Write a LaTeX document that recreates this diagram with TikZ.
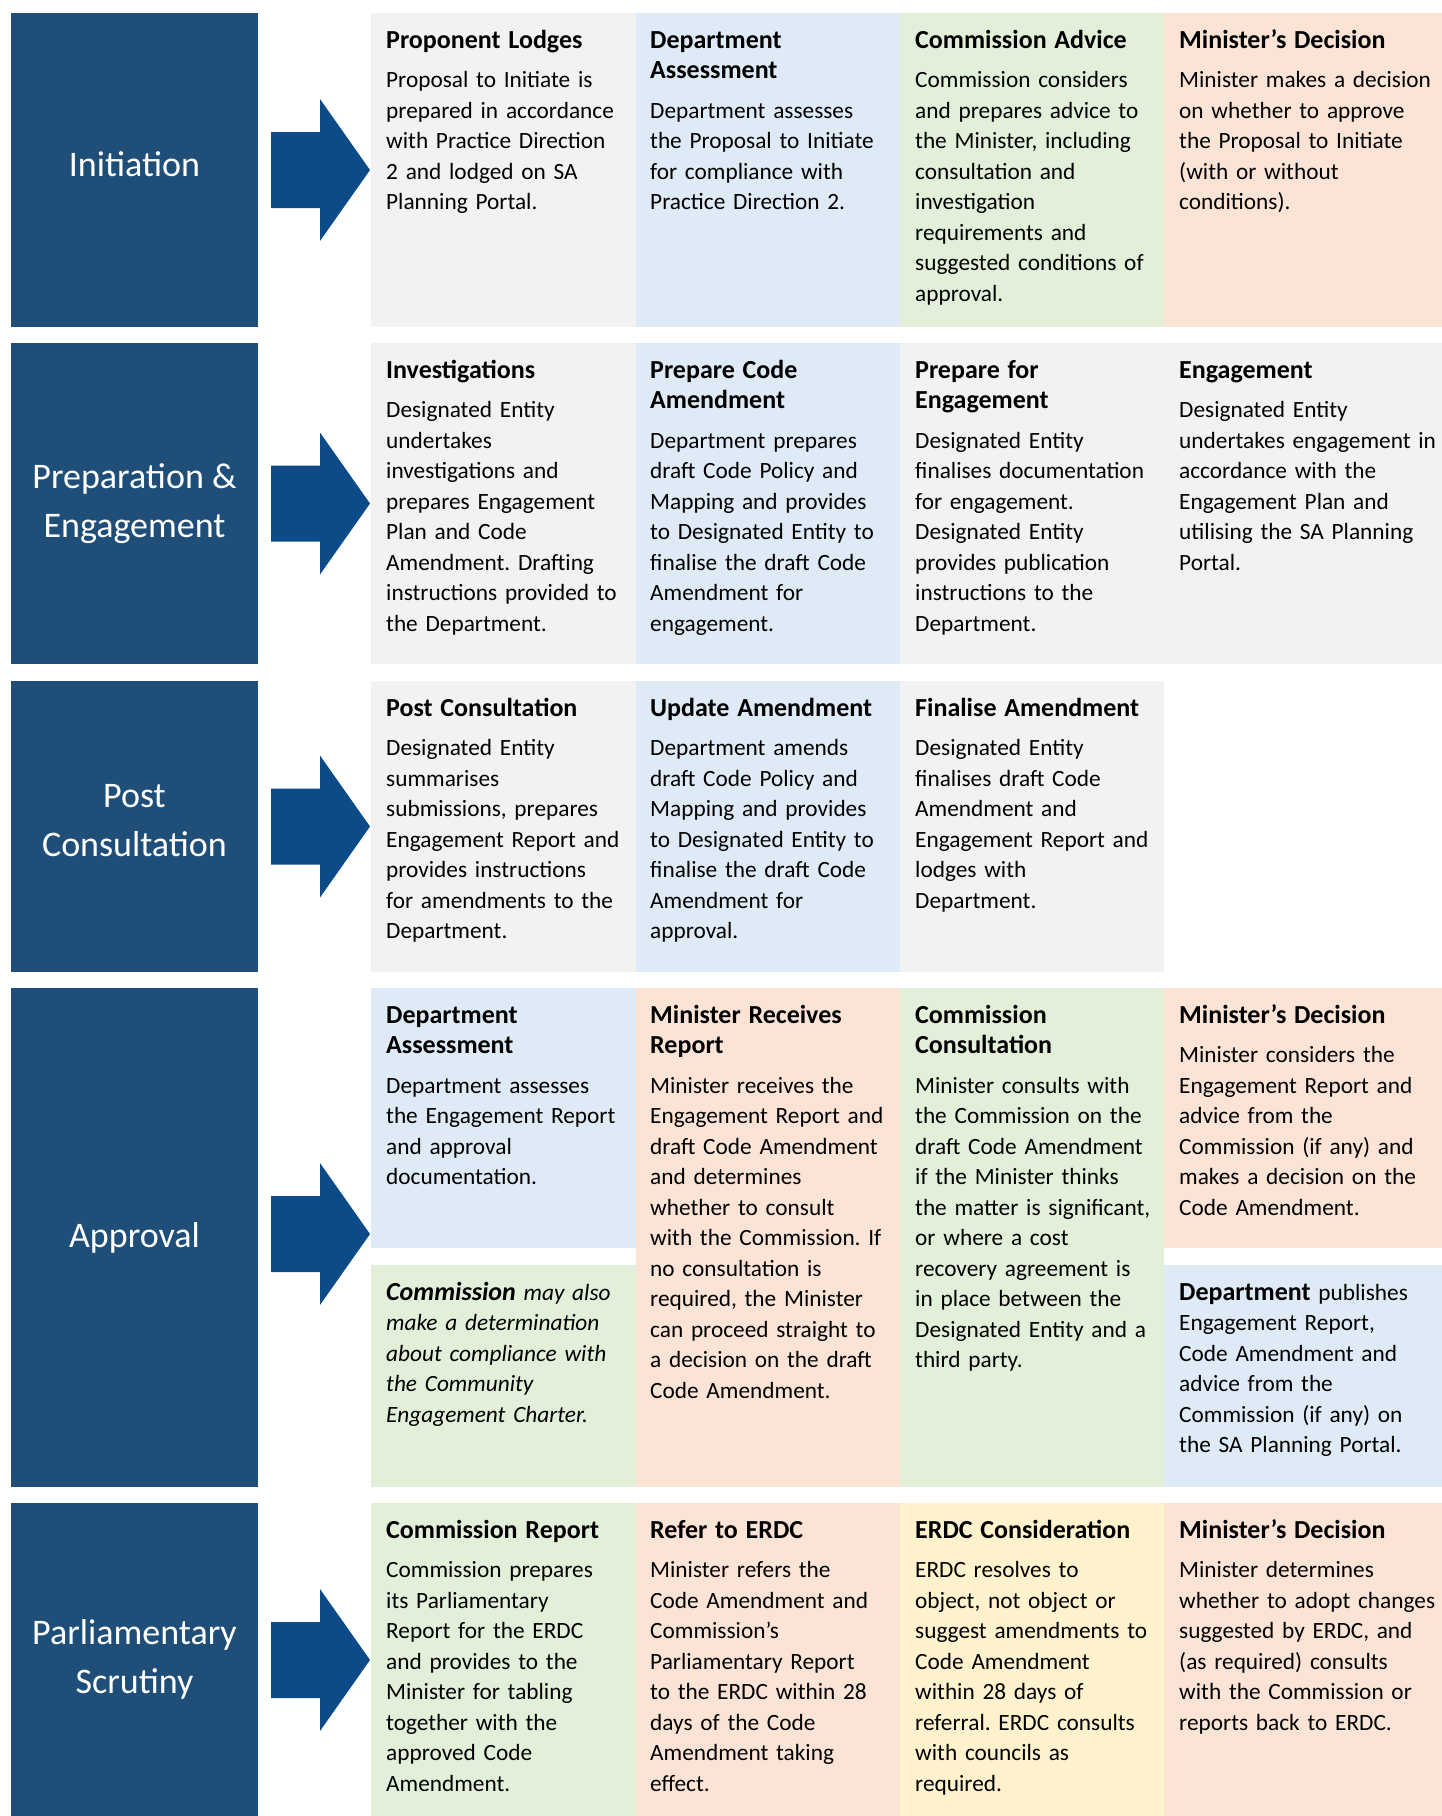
\documentclass[tikz,border=0pt]{standalone}
\usepackage{fontspec}
\setmainfont{Carlito}
\usepackage{tikz}
\definecolor{phase_blue}{RGB}{31, 78, 121}
\definecolor{arrow_blue}{RGB}{12, 75, 135}
\definecolor{cell_grey}{RGB}{242, 242, 242}
\definecolor{cell_blue}{RGB}{222, 234, 246}
\definecolor{cell_green}{RGB}{226, 239, 217}
\definecolor{cell_salmon}{RGB}{251, 228, 213}
\definecolor{cell_yellow}{RGB}{255, 242, 204}
\newcommand{\cellhead}[1]{{\fontsize{26}{30.5}\selectfont\bfseries #1}}
\newcommand{\lowdepth}{\rule[-12pt]{0pt}{0pt}}
\tikzstyle{ph}=[fill=phase_blue,text=white,inner sep=0pt,minimum width=247pt,
  align=center,font=\fontsize{36}{48.6}\selectfont]
\tikzstyle{tx}=[anchor=base west,inner sep=0pt,text width=270pt,align=left,
  font=\fontsize{23.3}{30.5}\selectfont\frenchspacing]
\tikzstyle{arw}=[fill=arrow_blue]

\begin{document}
\begin{tikzpicture}[x=1pt, y=-1pt]
		\useasboundingbox (0,0) rectangle (1442,1816);
		% phases
		\node [style=ph, minimum height=314pt] (init) at (134.5, 170) {Initiation\lowdepth};
		\node [style=ph, minimum height=321pt] (prep) at (134.5, 503.5) {Preparation \&\\Engagement};
		\node [style=ph, minimum height=291pt] (post) at (134.5, 826.5) {Post\\Consultation\lowdepth};
		\node [style=ph, minimum height=499pt] (appr) at (134.5, 1237.5) {Approval};
		\node [style=ph, minimum height=313pt] (parl) at (134.5, 1659.5) {Parliamentary\\Scrutiny};
		% arrows
		\fill [style=arw] (271,132) -- (320,132) -- (320,99) -- (370,170) -- (320,241) -- (320,208) -- (271,208) -- cycle;
		\fill [style=arw] (271,465.5) -- (320,465.5) -- (320,432.5) -- (370,503.5) -- (320,574.5) -- (320,541.5) -- (271,541.5) -- cycle;
		\fill [style=arw] (271,788.5) -- (320,788.5) -- (320,755.5) -- (370,826.5) -- (320,897.5) -- (320,864.5) -- (271,864.5) -- cycle;
		\fill [style=arw] (271,1196) -- (320,1196) -- (320,1163) -- (370,1234) -- (320,1305) -- (320,1272) -- (271,1272) -- cycle;
		\fill [style=arw] (271,1622) -- (320,1622) -- (320,1589) -- (370,1660) -- (320,1731) -- (320,1698) -- (271,1698) -- cycle;
		% cells
		\fill [cell_grey] (371,13) rectangle (636,327);
		\fill [cell_blue] (636,13) rectangle (900,327);
		\fill [cell_green] (900,13) rectangle (1164,327);
		\fill [cell_salmon] (1164,13) rectangle (1442,327);
		\fill [cell_grey] (371,343) rectangle (636,664);
		\fill [cell_blue] (636,343) rectangle (900,664);
		\fill [cell_grey] (900,343) rectangle (1164,664);
		\fill [cell_grey] (1164,343) rectangle (1442,664);
		\fill [cell_grey] (371,681) rectangle (636,972);
		\fill [cell_blue] (636,681) rectangle (900,972);
		\fill [cell_grey] (900,681) rectangle (1164,972);
		\fill [cell_blue] (371,988) rectangle (636,1248);
		\fill [cell_green] (371,1265) rectangle (636,1487);
		\fill [cell_salmon] (636,988) rectangle (900,1487);
		\fill [cell_green] (900,988) rectangle (1164,1487);
		\fill [cell_salmon] (1164,988) rectangle (1442,1248);
		\fill [cell_blue] (1164,1265) rectangle (1442,1487);
		\fill [cell_green] (371,1503) rectangle (636,1816);
		\fill [cell_salmon] (636,1503) rectangle (900,1816);
		\fill [cell_yellow] (900,1503) rectangle (1164,1816);
		\fill [cell_salmon] (1164,1503) rectangle (1442,1816);
		% initiation
		\node [style=tx] (lodge) at (386, 48) {\cellhead{Proponent Lodges}\\[9pt]Proposal to Initiate is\\prepared in accordance\\with Practice Direction\\2 and lodged on SA\\Planning Portal.};
		\node [style=tx] (assess1) at (650, 48) {\cellhead{Department}\\\cellhead{Assessment}\\[9pt]Department assesses\\the Proposal to Initiate\\for compliance with\\Practice Direction 2.};
		\node [style=tx] (advice) at (915, 48) {\cellhead{Commission Advice}\\[9pt]Commission considers\\and prepares advice to\\the Minister, including\\consultation and\\investigation\\requirements and\\suggested conditions of\\approval.};
		\node [style=tx] (decide1) at (1179, 48) {\cellhead{Minister’s Decision}\\[9pt]Minister makes a decision\\on whether to approve\\the Proposal to Initiate\\(with or without\\conditions).};
		% preparation & engagement
		\node [style=tx] (invest) at (386, 378) {\cellhead{Investigations}\\[9pt]Designated Entity\\undertakes\\investigations and\\prepares Engagement\\Plan and Code\\Amendment. Drafting\\instructions provided to\\the Department.};
		\node [style=tx] (prepcode) at (650, 378) {\cellhead{Prepare Code}\\\cellhead{Amendment}\\[9pt]Department prepares\\draft Code Policy and\\Mapping and provides\\to Designated Entity to\\finalise the draft Code\\Amendment for\\engagement.};
		\node [style=tx] (prepeng) at (915, 378) {\cellhead{Prepare for}\\\cellhead{Engagement}\\[9pt]Designated Entity\\finalises documentation\\for engagement.\\Designated Entity\\provides publication\\instructions to the\\Department.};
		\node [style=tx] (engage) at (1179, 378) {\cellhead{Engagement}\\[9pt]Designated Entity\\undertakes engagement in\\accordance with the\\Engagement Plan and\\utilising the SA Planning\\Portal.};
		% post consultation
		\node [style=tx] (postc) at (386, 716) {\cellhead{Post Consultation}\\[9pt]Designated Entity\\summarises\\submissions, prepares\\Engagement Report and\\provides instructions\\for amendments to the\\Department.};
		\node [style=tx] (update) at (650, 716) {\cellhead{Update Amendment}\\[9pt]Department amends\\draft Code Policy and\\Mapping and provides\\to Designated Entity to\\finalise the draft Code\\Amendment for\\approval.};
		\node [style=tx] (final) at (915, 716) {\cellhead{Finalise Amendment}\\[9pt]Designated Entity\\finalises draft Code\\Amendment and\\Engagement Report and\\lodges with\\Department.};
		% approval
		\node [style=tx] (assess2) at (386, 1023) {\cellhead{Department}\\\cellhead{Assessment}\\[9pt]Department assesses\\the Engagement Report\\and approval\\documentation.};
		\node [style=tx] (charter) at (386, 1300) {\itshape\cellhead{Commission} may also\\make a determination\\about compliance with\\the Community\\Engagement Charter.};
		\node [style=tx] (receive) at (650, 1023) {\cellhead{Minister Receives}\\\cellhead{Report}\\[9pt]Minister receives the\\Engagement Report and\\draft Code Amendment\\and determines\\whether to consult\\with the Commission. If\\no consultation is\\required, the Minister\\can proceed straight to\\a decision on the draft\\Code Amendment.};
		\node [style=tx] (consult) at (915, 1023) {\cellhead{Commission}\\\cellhead{Consultation}\\[9pt]Minister consults with\\the Commission on the\\draft Code Amendment\\if the Minister thinks\\the matter is significant,\\or where a cost\\recovery agreement is\\in place between the\\Designated Entity and a\\third party.};
		\node [style=tx] (decide2) at (1179, 1023) {\cellhead{Minister’s Decision}\\[9pt]Minister considers the\\Engagement Report and\\advice from the\\Commission (if any) and\\makes a decision on the\\Code Amendment.};
		\node [style=tx] (publish) at (1179, 1300) {\cellhead{Department} publishes\\Engagement Report,\\Code Amendment and\\advice from the\\Commission (if any) on\\the SA Planning Portal.};
		% parliamentary scrutiny
		\node [style=tx] (report) at (386, 1538) {\cellhead{Commission Report}\\[9pt]Commission prepares\\its Parliamentary\\Report for the ERDC\\and provides to the\\Minister for tabling\\together with the\\approved Code\\Amendment.};
		\node [style=tx] (refer) at (650, 1538) {\cellhead{Refer to ERDC}\\[9pt]Minister refers the\\Code Amendment and\\Commission’s\\Parliamentary Report\\to the ERDC within 28\\days of the Code\\Amendment taking\\effect.};
		\node [style=tx] (erdc) at (915, 1538) {\cellhead{ERDC Consideration}\\[9pt]ERDC resolves to\\object, not object or\\suggest amendments to\\Code Amendment\\within 28 days of\\referral. ERDC consults\\with councils as\\required.};
		\node [style=tx] (decide3) at (1179, 1538) {\cellhead{Minister’s Decision}\\[9pt]Minister determines\\whether to adopt changes\\suggested by ERDC, and\\(as required) consults\\with the Commission or\\reports back to ERDC.};
\end{tikzpicture}
\end{document}
